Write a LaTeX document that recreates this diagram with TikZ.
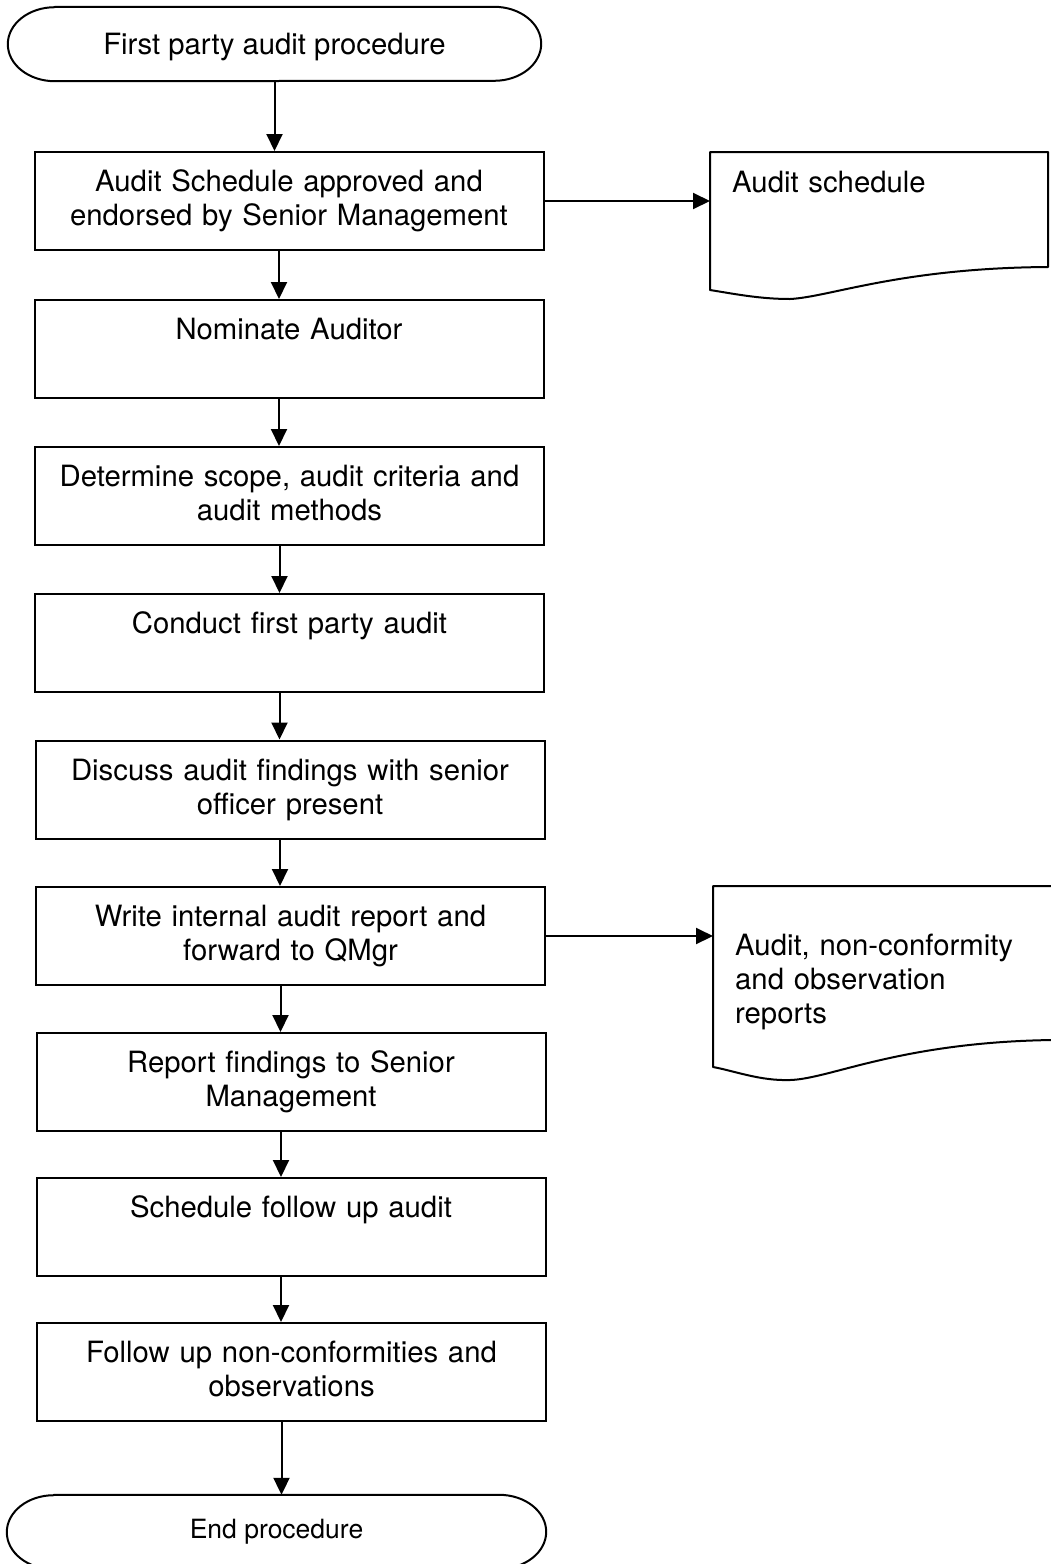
\documentclass[tikz,border=0pt]{standalone}
\usepackage{fontspec}
\setmainfont{TeX Gyre Heros}
\usetikzlibrary{arrows.meta}
\tikzstyle{proc}=[draw=black,line width=2pt,minimum width=509pt,minimum height=98pt,
  text width=490pt,align=center,inner sep=0pt,text depth=40pt,
  font=\fontsize{29.3pt}{34pt}\selectfont]
\tikzstyle{term}=[minimum width=439pt,minimum height=74pt,inner sep=0pt,
  font=\fontsize{29.3pt}{34pt}\selectfont]
\tikzstyle{doc}=[anchor=north west,inner xsep=22pt,inner ysep=19pt,align=left,
  font=\fontsize{29.3pt}{34pt}\selectfont]
\tikzstyle{arr}=[line width=2pt,-{Triangle[width=16pt,length=17pt]}]
\tikzstyle{outline}=[line width=2pt,line join=round]

\begin{document}
\begin{tikzpicture}[x=1pt,y=-1pt]
    \useasboundingbox (0,0) rectangle (1050,1564);
    % start and end
    \node [style=term,text depth=0pt] (start) at (274.5,44) {First party audit procedure};
    \draw [style=outline] (start.north west) -- (start.north east)
      arc[start angle=90,end angle=-90,x radius=47pt,y radius=37pt]
      -- (start.south west)
      arc[start angle=270,end angle=90,x radius=47pt,y radius=37pt] -- cycle;
    \node [style=term,minimum width=445pt,font=\fontsize{26.5pt}{30pt}\selectfont] (end) at (276.5,1532) {End procedure};
    \draw [style=outline] (end.north west) -- (end.north east)
      arc[start angle=90,end angle=-90,x radius=47pt,y radius=37pt]
      -- (end.south west)
      arc[start angle=270,end angle=90,x radius=47pt,y radius=37pt] -- cycle;
    % steps
    \node [style=proc] (schedule) at (289,201) {Audit Schedule approved and\\endorsed by Senior Management};
    \node [style=proc] (nominate) at (289,349) {Nominate Auditor\\\mbox{}};
    \node [style=proc] (scope) at (289.5,496) {Determine scope, audit criteria and\\audit methods};
    \node [style=proc] (conduct) at (289.5,643) {Conduct first party audit\\\mbox{}};
    \node [style=proc] (discuss) at (290,789.5) {Discuss audit findings with senior\\officer present};
    \node [style=proc] (write) at (290.5,936) {Write internal audit report and\\forward to QMgr};
    \node [style=proc] (report) at (291,1082) {Report findings to Senior\\Management};
    \node [style=proc] (followup) at (291,1227) {Schedule follow up audit\\\mbox{}};
    \node [style=proc] (nonconf) at (291.5,1372) {Follow up non-conformities and\\observations};
    % documents
    \node [style=doc,text width=296pt] (sched) at (710,152) {Audit schedule};
    \draw [style=outline] (710,152) -- (1048,152) -- (1048,267)
      .. controls (900,268) and (830,297) .. (790,299)
      .. controls (760,299) and (735,294) .. (710,290) -- cycle;
    \node [style=doc,inner ysep=48pt,text width=291pt] (reps) at (713,886) {Audit, non-conformity\\and observation\\reports};
    \draw [style=outline] (713,886) -- (1053,886) -- (1053,1040)
      .. controls (900,1042) and (830,1079) .. (790,1080)
      .. controls (760,1081) and (735,1071) .. (713,1067) -- cycle;
    % flow
    \draw [style=arr] (start.south) to (start.south |- schedule.north);
    \draw [style=arr] ([xshift=-10pt]schedule.south) to ([xshift=-10pt]schedule.south |- nominate.north);
    \draw [style=arr] ([xshift=-10pt]nominate.south) to ([xshift=-10pt]nominate.south |- scope.north);
    \draw [style=arr] ([xshift=-10pt]scope.south) to ([xshift=-10pt]scope.south |- conduct.north);
    \draw [style=arr] ([xshift=-10pt]conduct.south) to ([xshift=-10pt]conduct.south |- discuss.north);
    \draw [style=arr] ([xshift=-10pt]discuss.south) to ([xshift=-10pt]discuss.south |- write.north);
    \draw [style=arr] ([xshift=-10pt]write.south) to ([xshift=-10pt]write.south |- report.north);
    \draw [style=arr] ([xshift=-10pt]report.south) to ([xshift=-10pt]report.south |- followup.north);
    \draw [style=arr] ([xshift=-10pt]followup.south) to ([xshift=-10pt]followup.south |- nonconf.north);
    \draw [style=arr] ([xshift=-10pt]nonconf.south) to ([xshift=-10pt]nonconf.south |- end.north);
    \draw [style=arr] (schedule.east) to (schedule.east -| sched.west);
    \draw [style=arr] (write.east) to (write.east -| reps.west);
  \end{tikzpicture}
\end{document}
